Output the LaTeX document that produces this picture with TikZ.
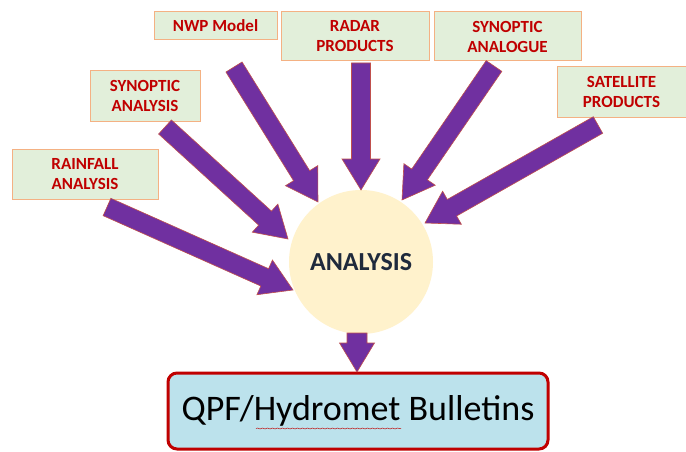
\documentclass[tikz,border=0pt]{standalone}
\usepackage{fontspec}
\setmainfont{Carlito}
\usetikzlibrary{decorations.pathmorphing}
\definecolor{boxfill}{HTML}{E2EFDA}
\definecolor{boxline}{HTML}{F4B183}
\definecolor{redtxt}{HTML}{C00000}
\definecolor{arrfill}{HTML}{7030A0}
\definecolor{arrline}{HTML}{C0504D}
\definecolor{circfill}{HTML}{FFF2CC}
\definecolor{navy}{HTML}{1F2A3C}
\definecolor{bluefill}{HTML}{BCE2EC}
\newcommand\barrow[5]{%
  \path (#1); \pgfgetlastxy{\ax}{\ay}%
  \path (#2); \pgfgetlastxy{\bx}{\by}%
  \pgfmathsetmacro\ang{atan2((\by)-(\ay),(\bx)-(\ax))}%
  \pgfmathsetlengthmacro\len{veclen((\bx)-(\ax),(\by)-(\ay))}%
  \pgfmathsetlengthmacro\hb{\len-#5}%
  \draw[blockarrow,shift={(\ax,\ay)},rotate=\ang] (0pt,-#3) -- (\hb,-#3) -- (\hb,-#4) -- (\len,0pt) -- (\hb,#4) -- (\hb,#3) -- (0pt,#3) -- cycle;}
\begin{document}
\begin{tikzpicture}[x=1pt,y=-1pt,
  srcbox/.style={draw=boxline,fill=boxfill,line width=1pt,text=redtxt,font=\fontsize{17}{20}\selectfont\bfseries,align=center,inner sep=0pt},
  blockarrow/.style={fill=arrfill,draw=arrline,line width=0.6pt,line join=miter}]
\useasboundingbox (0,0) rectangle (686,452);
\fill[white] (0,0) rectangle (686,452);
% source boxes
\node[srcbox,minimum width=123pt,minimum height=28pt] (nwp) at (215.5,26) {NWP Model};
\node[srcbox,minimum width=148pt,minimum height=49pt] (radar) at (355,36.5) {RADAR\\PRODUCTS};
\node[srcbox,minimum width=147pt,minimum height=49pt] (analog) at (507.5,36.5) {SYNOPTIC\\ANALOGUE};
\node[srcbox,minimum width=129pt,minimum height=50pt] (sat) at (621.5,92) {SATELLITE\\PRODUCTS};
\node[srcbox,minimum width=110pt,minimum height=50pt] (synan) at (145,96) {SYNOPTIC\\ANALYSIS};
\node[srcbox,minimum width=146pt,minimum height=50pt] (rain) at (85,174) {RAINFALL\\ANALYSIS};
% central circle
\node[circle,fill=circfill,minimum size=144pt,inner sep=0pt,text=navy,font=\fontsize{26}{30}\selectfont\bfseries] (ana) at (361,262) {ANALYSIS};
% output box
\node[draw=redtxt,line width=3pt,fill=bluefill,rounded corners=9pt,minimum width=380pt,minimum height=76pt,inner sep=0pt,font=\fontsize{36}{40}\selectfont] (qpf) at (358,411) {\raisebox{-4pt}{QPF/Hydromet Bulletins}};
\draw[redtxt,line width=0.5pt,decorate,decoration={snake,amplitude=0.5pt,segment length=5pt}] (256,428.5) -- (401,428.5);
% arrow end points
\coordinate (nwpT) at (234,67);   \coordinate (nwpH) at (318,202);
\coordinate (synT) at (165,127);  \coordinate (synH) at (288,239);
\coordinate (rainT) at (107,207); \coordinate (rainH) at (293,290);
\coordinate (radT) at (361,63);   \coordinate (radH) at (361,190);
\coordinate (anaT) at (494,66);   \coordinate (anaH) at (402,200);
\coordinate (satT) at (598,125);  \coordinate (satH) at (425,223);
\coordinate (outT) at (357,333);  \coordinate (outH) at (357,372);
\barrow{nwpT}{nwpH}{9.5pt}{19pt}{31pt}
\barrow{synT}{synH}{9.5pt}{19pt}{31pt}
\barrow{rainT}{rainH}{9.5pt}{19pt}{31pt}
\barrow{radT}{radH}{9.5pt}{19pt}{31pt}
\barrow{anaT}{anaH}{9.5pt}{19pt}{31pt}
\barrow{satT}{satH}{9.5pt}{19pt}{31pt}
\barrow{outT}{outH}{10pt}{17.5pt}{29pt}
\end{tikzpicture}
\end{document}
